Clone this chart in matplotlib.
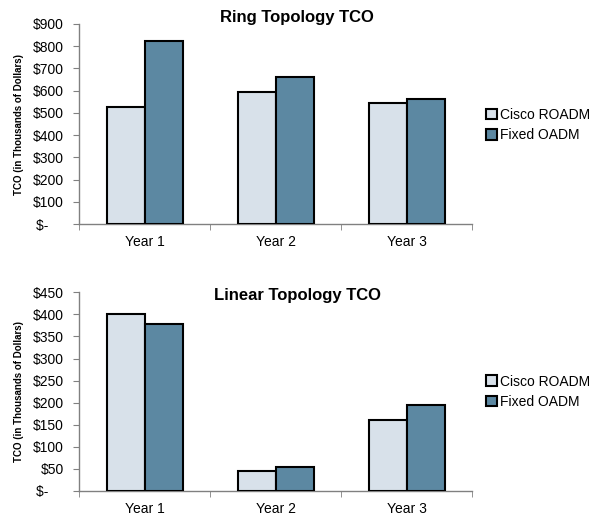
import matplotlib
matplotlib.use("Agg")
import matplotlib.pyplot as plt
import numpy as np

plt.rcParams['font.family'] = ['Liberation Sans', 'DejaVu Sans']

categories = ["Year 1", "Year 2", "Year 3"]
series = ["Cisco ROADM", "Fixed OADM"]
ring_cisco = [527, 595, 543]
ring_fixed = [824, 661, 562]
linear_cisco = [402, 45, 160]
linear_fixed = [378, 54, 194]
ring_ticks = [0, 100, 200, 300, 400, 500, 600, 700, 800, 900]
linear_ticks = [0, 50, 100, 150, 200, 250, 300, 350, 400, 450]

light = "#D8E1EA"
dark = "#5C88A2"

fig = plt.figure(figsize=(6, 5.25), dpi=100)

def fmt(v):
    return "$-    " if v == 0 else f"${v}"

def draw(rect, a, b, ticks, title, title_y, leg_y):
    ax = fig.add_axes(rect)
    x = np.arange(len(categories))
    w = 0.29
    ax.bar(x - w/2, a, w, color=light, edgecolor="black", linewidth=1.5, label=series[0], zorder=3)
    ax.bar(x + w/2, b, w, color=dark, edgecolor="black", linewidth=1.5, label=series[1], zorder=3)
    ax.set_xlim(-0.5, len(categories) - 0.5)
    ax.set_ylim(0, ticks[-1])
    ax.set_yticks(ticks)
    ax.set_yticklabels([fmt(t) for t in ticks], fontsize=10)
    ax.set_xticks(x)
    ax.set_xticklabels(categories, fontsize=10)
    ax.tick_params(axis='x', length=0, pad=8)
    ax.set_xticks([-0.5, 0.5, 1.5, 2.5], minor=True)
    ax.tick_params(axis='x', which='minor', length=4, color="#808080", direction='out')
    ax.tick_params(axis='y', length=4, color="#808080", direction='out', pad=7)
    for s in ['top', 'right']:
        ax.spines[s].set_visible(False)
    for s in ['left', 'bottom']:
        ax.spines[s].set_color("#808080")
        ax.spines[s].set_linewidth(1)
    ax.set_ylabel("TCO (in Thousands of Dollars)", fontsize=7, fontweight='bold', labelpad=6)
    fig.text(0.495, title_y, title, fontsize=12, fontweight='bold', ha='center', va='center')
    leg = ax.legend(loc='center left', bbox_to_anchor=(0.81, leg_y),
                    bbox_transform=fig.transFigure, frameon=False, fontsize=10,
                    handlelength=0.8, handleheight=0.8, handletextpad=0.2, labelspacing=0.45,
                    borderaxespad=0, borderpad=0)
    for h in leg.legend_handles:
        h.set_linewidth(1.5)
    return ax

ax1 = draw([0.1317, 0.5733, 0.655, 0.381], ring_cisco, ring_fixed, ring_ticks,
           "Ring Topology TCO", 0.967, 0.762)
ax2 = draw([0.1317, 0.0648, 0.655, 0.3784], linear_cisco, linear_fixed, linear_ticks,
           "Linear Topology TCO", 0.437, 0.254)

fig.savefig("out.png", dpi=100)
